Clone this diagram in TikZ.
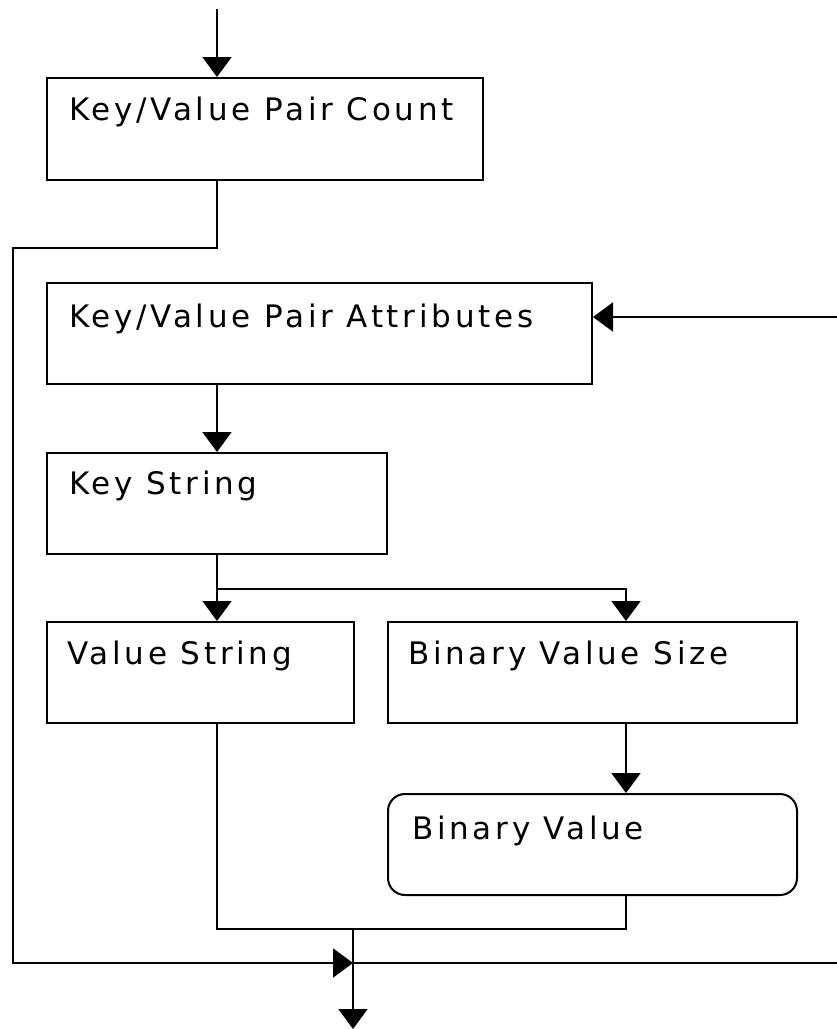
\documentclass[tikz,border=0pt]{standalone}
\usepackage{fontspec}
\setmainfont{DejaVu Sans}[LetterSpace=12]
\usetikzlibrary{arrows.meta,calc}
\tikzset{
  box/.style={draw=black, line width=2pt, inner sep=0pt, fill=white},
  lbl/.style={anchor=base west, inner sep=0pt, font=\fontsize{31}{37}\selectfont},
  conn/.style={draw=black, line width=2pt},
  arr/.style={conn, -{Triangle[length=20pt,width=29pt]}}
}
\begin{document}
\begin{tikzpicture}[x=1pt,y=-1pt]
\useasboundingbox (0,0) rectangle (837,1029);
% reference x positions
\coordinate (cx) at (217,0);
\coordinate (rx) at (626,0);
% boxes
\node[box, minimum width=436pt, minimum height=102pt] (b1) at (265,129) {};
\node[box, minimum width=545pt, minimum height=101pt] (b2) at (319.5,333.5) {};
\node[box, minimum width=340pt, minimum height=101pt] (b3) at (217,503.5) {};
\node[box, minimum width=307pt, minimum height=101pt] (b4) at (200.5,672.5) {};
\node[box, minimum width=409pt, minimum height=101pt] (b5) at (592.5,672.5) {};
\node[box, minimum width=409pt, minimum height=101pt, rounded corners=17pt] (b6) at (592.5,844.5) {};
% texts
\node[lbl] (t1) at ($(b1.north west)+(23,43)$) {Key/Value Pair Count};
\node[lbl] (t2) at ($(b2.north west)+(23,45)$) {Key/Value Pair Attributes};
\node[lbl] (t3) at ($(b3.north west)+(23,42)$) {Key String};
\node[lbl] (t4) at ($(b4.north west)+(21,43)$) {Value String};
\node[lbl] (t5) at ($(b5.north west)+(21,43)$) {Binary Value Size};
\node[lbl] (t6) at ($(b6.north west)+(25,46)$) {Binary Value};
% helper coordinates
\coordinate (in) at (217,9);
\coordinate (l1) at (13,248);
\coordinate (l2) at (13,963);
\coordinate (j) at (353,963);
\coordinate (r1) at (837,963);
\coordinate (r2) at (837,317);
\coordinate (s) at (217,589);
\coordinate (m1) at (217,929);
\coordinate (m2) at (626,929);
\coordinate (m) at (353,929);
\coordinate (out) at (353,1029);
% connectors
\draw[arr] (in) -- (b1.north -| cx);
\draw[arr] (b1.south -| cx) |- (l1) -- (l2) -- (j);
\draw[conn] (j) -- (r1);
\draw[arr] (r2) -- (b2.east |- r2);
\draw[arr] (b2.south -| cx) -- (b3.north);
\draw[conn] (b3.south) -- (s);
\draw[arr] (s) -- (b4.north -| cx);
\draw[arr] (s) -| (b5.north -| rx);
\draw[arr] (b5.south -| rx) -- (b6.north -| rx);
\draw[conn] (b4.south -| cx) -- (m1) -- (m2) -- (b6.south -| rx);
\draw[arr] (m) -- (out);
\end{tikzpicture}
\end{document}
